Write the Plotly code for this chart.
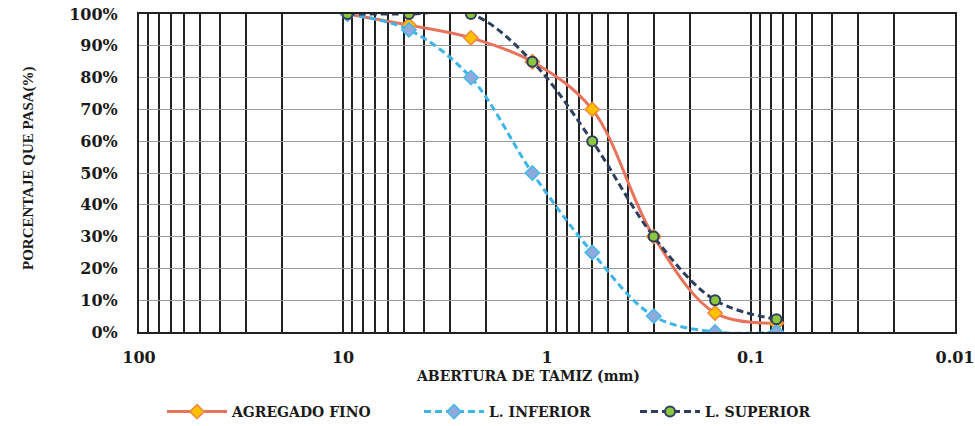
import plotly.graph_objects as go

# Sieve openings (mm) and cumulative percent passing
tamiz_mm = [9.5, 4.75, 2.36, 1.18, 0.6, 0.3, 0.15, 0.075]
agregado_fino = [100, 96.5, 92.5, 85, 70, 30, 6, 2.8]
limite_inferior = [100, 95, 80, 50, 25, 5, 0, 0]
limite_superior = [100, 100, 100, 85, 60, 30, 10, 4]

x_ticks = [100, 10, 1, 0.1, 0.01]
x_tick_text = ["100", "10", "1", "0.1", "0.01"]
y_ticks = [0, 10, 20, 30, 40, 50, 60, 70, 80, 90, 100]
y_tick_text = [f"{v}%" for v in y_ticks]

FONT = "DejaVu Serif"
TITLE_FONT = "Liberation Serif"
W, H = 975, 426
L, R, T, B = 139, 20, 14, 94
PW, PH = W - L - R, H - T - B

fig = go.Figure()

fig.add_trace(go.Scatter(
    x=tamiz_mm, y=agregado_fino, name="AGREGADO FINO",
    mode="lines+markers", legend="legend",
    line=dict(color="#E8735C", width=3, shape="spline"),
    marker=dict(symbol="diamond", size=11, color="#FFC000",
                line=dict(color="#F0883E", width=1.5)),
))
fig.add_trace(go.Scatter(
    x=tamiz_mm, y=limite_inferior, name="L. INFERIOR",
    mode="lines+markers", legend="legend2",
    line=dict(color="#3DB5E6", width=3, dash="7px,4px", shape="spline"),
    marker=dict(symbol="diamond", size=11, color="#8EA9DB",
                line=dict(color="#45B8EA", width=1.5)),
))
fig.add_trace(go.Scatter(
    x=tamiz_mm, y=limite_superior, name="L. SUPERIOR",
    mode="lines+markers", legend="legend3",
    line=dict(color="#2E3F5E", width=3, dash="7px,4px", shape="spline"),
    marker=dict(symbol="circle", size=10, color="#8CC63F",
                line=dict(color="#2E3F5E", width=2)),
))


def legend_at(px_left):
    return dict(
        orientation="h", xref="container", x=(px_left - 8) / W,
        xanchor="left", yref="container", y=(H - 412) / H, yanchor="middle",
        itemwidth=60, bgcolor="rgba(0,0,0,0)",
        font=dict(family=FONT, size=14, weight="bold", color="#1a1a1a"),
    )


fig.update_layout(
    width=W, height=H,
    margin=dict(l=L, r=R, t=T, b=B),
    paper_bgcolor="white", plot_bgcolor="white",
    font=dict(family=FONT, size=14, color="#1a1a1a", weight="bold"),
    showlegend=True,
    legend=legend_at(170),
    legend2=legend_at(427),
    legend3=legend_at(643),
)

fig.update_xaxes(
    type="log", range=[2, -2], automargin=False,
    tickvals=x_ticks, ticktext=x_tick_text,
    tickfont=dict(family=FONT, size=16, weight="bold"),
    showgrid=True, gridcolor="#222222", gridwidth=1.5,
    minor=dict(dtick="D1", showgrid=True, gridcolor="#222222", gridwidth=1.5),
    showline=True, linecolor="#222222", linewidth=2, mirror=True,
    ticks="", ticklabelstandoff=10,
    zeroline=False,
)
fig.update_yaxes(
    range=[0, 100], automargin=False,
    tickvals=y_ticks, ticktext=y_tick_text,
    tickfont=dict(family=FONT, size=16, weight="bold"),
    showgrid=True, gridcolor="#9a9a9a", gridwidth=1.2,
    showline=True, linecolor="#222222", linewidth=2, mirror=True,
    ticks="", ticklabelstandoff=16,
    zeroline=False,
)

# Axis titles, placed in pixel terms relative to the plot area
fig.add_annotation(
    text="ABERTURA DE TAMIZ (mm)",
    xref="paper", yref="paper",
    x=(528 - L) / PW, y=(H - B - 376) / PH,
    xanchor="center", yanchor="middle", showarrow=False,
    font=dict(family=FONT, size=14, weight="bold", color="#1a1a1a"),
)
fig.add_annotation(
    text="PORCENTAJE QUE PASA(%)", textangle=-90,
    xref="paper", yref="paper",
    x=(28 - L) / PW, y=(H - B - 168) / PH,
    xanchor="center", yanchor="middle", showarrow=False,
    font=dict(family=TITLE_FONT, size=15, weight="bold", color="#1a1a1a"),
)

fig.write_html("out.html")
